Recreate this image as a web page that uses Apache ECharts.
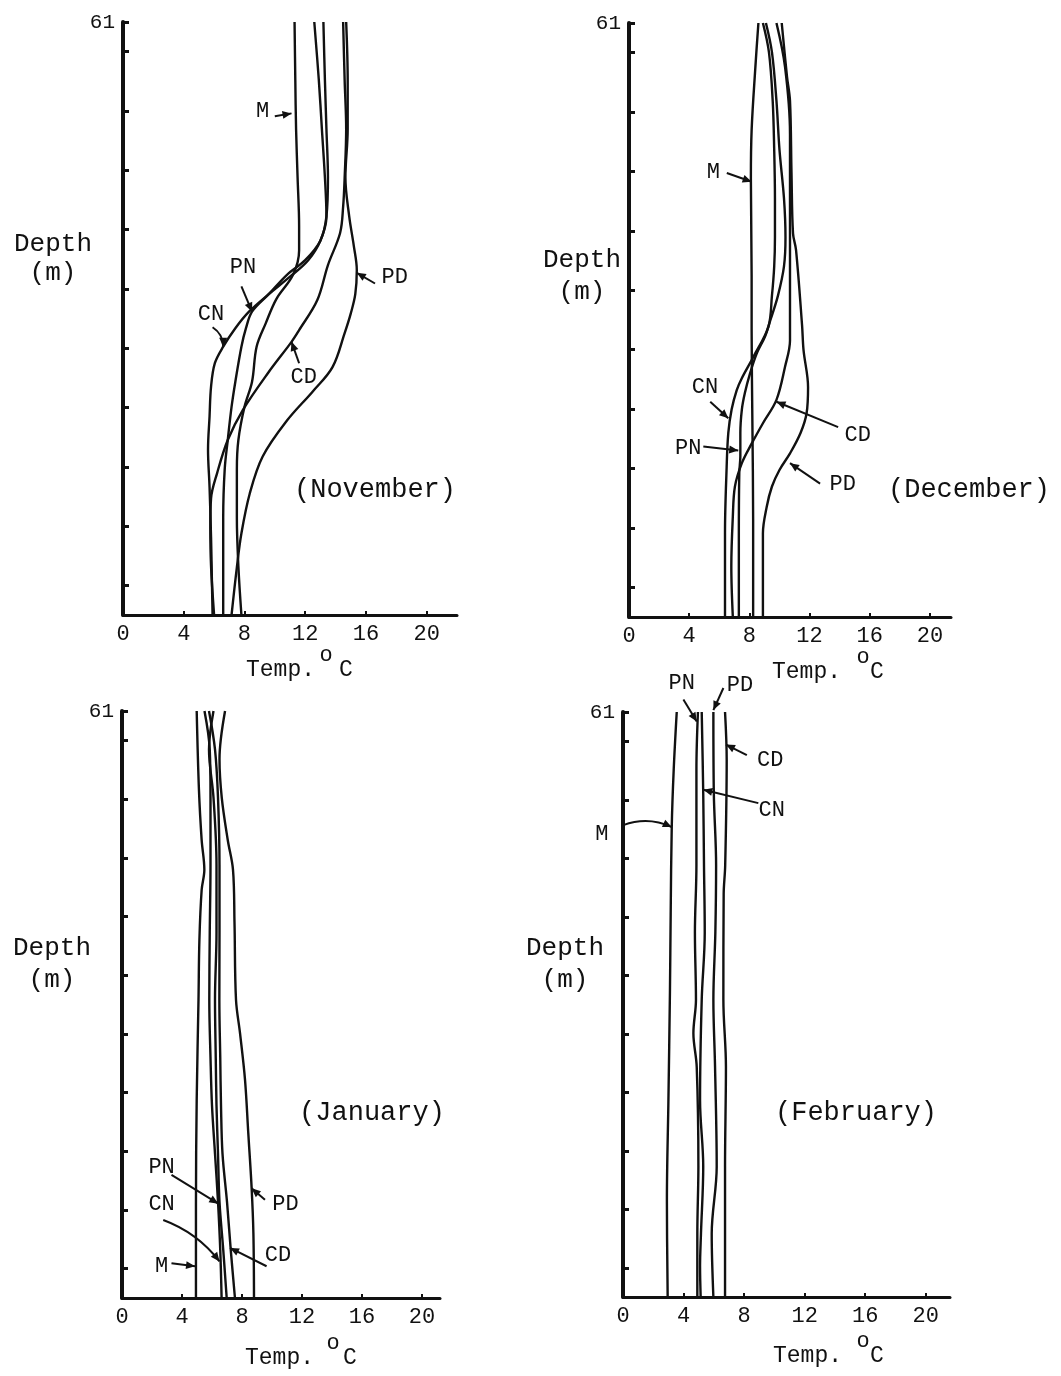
<!DOCTYPE html>
<html><head><meta charset="utf-8">
<script src="https://cdn.jsdelivr.net/npm/echarts@6/dist/echarts.min.js"></script>
<style>html,body{margin:0;padding:0;background:#fff}#c{width:1061px;height:1376px}</style>
</head><body><div id="c"></div>
<script>
// ---------------- DATA (temperature °C, depth m) ----------------
const xTickLabels = [0, 4, 8, 12, 16, 20];
const depthTicks = [3.05, 9.15, 15.25, 21.35, 27.45, 33.55, 39.65, 45.75, 51.85, 57.95, 61];
const depthLabels = [61];
const months = ['(November)', '(December)', '(January)', '(February)'];
const curveNames = ['M', 'PN', 'CN', 'CD', 'PD'];

// November
const novM  = [[11.3,61],[11.35,55],[11.4,50],[11.5,45],[11.6,40],[11.6,37.5],[11.2,35],[10.1,32.5],[9.4,30],[8.8,27.6],[8.5,24],[8.0,21.4],[7.6,18],[7.5,15],[7.5,10],[7.6,5],[7.8,0]];
const novPN = [[13.2,61],[13.3,55],[13.4,50],[13.5,45],[13.4,41],[13.0,38.5],[12.0,36.5],[10.8,35],[9.6,33],[8.5,31.2],[8.1,29.5],[7.8,27.6],[7.4,24],[7.15,21.4],[6.9,18],[6.7,15],[6.6,10],[6.6,5],[6.6,0]];
const novCN = [[12.6,61],[12.9,55],[13.1,50],[13.3,45],[13.4,41],[13.0,38.5],[12.2,36.5],[11.0,34.8],[9.6,33],[8.3,31.2],[7.4,29.5],[6.6,27.6],[6.05,25.9],[5.8,23.5],[5.7,20.4],[5.6,17],[5.7,13.2],[5.8,8],[5.85,4],[5.9,0]];
const novCD = [[14.5,61],[14.6,55],[14.7,50],[14.6,45],[14.5,42],[14.3,39.3],[13.5,36],[12.8,32.4],[11.6,29.3],[11.1,28.1],[9.6,25],[7.9,21.1],[6.9,18],[6.2,14.6],[5.8,12],[5.75,9],[5.8,5],[6.0,0]];
const novPD = [[14.7,61],[14.8,55],[14.8,50],[14.65,45],[14.9,41],[15.2,38],[15.4,35.5],[15.3,33],[15.0,31],[14.6,29],[13.8,25.5],[12.5,23],[10.8,20],[9.2,16.3],[8.35,12.5],[7.8,8.4],[7.5,4.9],[7.15,0]];

// December
const decM  = [[8.6,61],[8.4,56.5],[8.15,50],[8.1,45],[8.15,35],[8.15,29.5],[8.2,20],[8.25,10],[8.25,0]];
const decPN = [[9.1,61],[9.5,58],[9.8,53],[10.0,48],[10.3,43],[10.4,39],[10.3,36],[9.9,33],[9.4,30.5],[9.04,28.8],[8.5,27.1],[8.04,25],[7.7,23],[7.5,21.3],[7.4,18.9],[7.4,16.5],[7.33,14.8],[7.3,8],[7.3,0]];
const decCN = [[8.9,61],[9.3,58],[9.55,53],[9.65,48],[9.7,43],[9.7,39],[9.65,36],[9.5,33],[9.26,29.8],[8.26,26.7],[7.49,24.5],[7.16,23.3],[6.82,21.3],[6.6,18.9],[6.49,15.4],[6.38,8.6],[6.38,0]];
const decCD = [[9.8,61],[10.37,56.5],[10.7,49.6],[10.7,40],[10.7,32.5],[10.7,28.4],[10.37,25.7],[9.8,22.3],[8.9,19.9],[8.15,17.8],[7.5,15.8],[7.04,13.4],[6.9,10.3],[6.8,5.2],[6.9,0]];
const decPD = [[10.15,61],[10.5,55.5],[10.7,53],[10.8,45.6],[10.9,39.4],[11.1,37.7],[11.5,30],[11.6,27.4],[11.9,23.6],[11.8,20.9],[11.4,18.9],[10.7,16.8],[10.0,15.1],[9.5,13.4],[9.15,11.3],[8.9,8.6],[8.9,0]];

// January
const janM  = [[4.98,61],[5.13,52.8],[5.31,47.6],[5.49,44.5],[5.31,42.4],[5.16,37.2],[5.1,31],[4.98,20.6],[4.93,9.8],[4.93,0]];
const janPN = [[6.1,61],[5.8,57],[6.1,52],[6.3,45],[6.3,38],[6.2,31],[6.25,25],[6.3,20],[6.4,15],[6.5,10],[6.75,5],[6.98,0]];
const janCN = [[5.5,61],[5.85,57],[5.9,52],[5.9,45],[5.85,38],[5.82,31],[5.9,25],[6.0,20],[6.2,15],[6.4,10],[6.55,5],[6.64,0]];
const janCD = [[5.8,61],[6.2,57],[6.4,52],[6.5,45],[6.5,38],[6.49,31],[6.55,25],[6.6,20],[6.7,15],[7.0,10],[7.25,5],[7.53,0]];
const janPD = [[6.87,61],[6.5,56],[6.65,52],[7.05,47.6],[7.4,44.5],[7.5,39],[7.6,31],[7.87,27.5],[8.2,22.7],[8.42,17.1],[8.64,11.5],[8.76,6.7],[8.8,0]];

// February
const febM  = [[3.55,61],[3.35,55],[3.22,49],[3.15,40],[3.1,31.7],[3.0,20.5],[2.9,10],[2.95,0]];
const febPN = [[4.95,61],[4.85,55],[4.85,45],[4.75,38],[4.82,31],[4.65,27.5],[4.87,24],[4.98,13.6],[4.91,6.6],[4.91,0]];
const febCN = [[5.2,61],[5.3,52.5],[5.35,45],[5.4,38],[5.2,31],[5.09,20.5],[5.3,13.6],[5.15,6.6],[5.09,3.2],[5.13,0]];
const febCD = [[6.74,61],[6.85,56],[6.75,45],[6.65,42],[6.63,31],[6.8,24],[6.74,13.6],[6.74,0]];
const febPD = [[5.97,61],[6.0,52.5],[6.15,45],[6.1,38],[5.97,31],[6.08,24],[6.19,13.6],[5.86,6.6],[5.97,0]];

// annotation labels: [text, labelT, labelD, fromT, fromD, tipT, tipD, bend(px)]
const novNotes = [['M',9.2,51.8,10.0,51.3,11.1,51.6,0],['PN',7.9,35.8,7.8,33.8,8.5,31.2,0],['CN',5.8,30.9,5.9,29.6,6.6,27.6,-6],['CD',11.9,24.5,11.6,25.9,11.1,28.1,0],['PD',17.9,34.8,16.6,34.1,15.4,35.2,0]];
const decNotes = [['M',5.6,45.7,6.5,45.6,8.15,44.7,0],['CN',5.05,23.6,5.4,22.1,6.6,20.4,0],['PN',3.94,17.3,4.94,17.5,7.26,17.1,0],['CD',15.2,18.7,13.9,19.5,9.8,22.1,0],['PD',14.2,13.6,12.7,13.7,10.7,15.8,0]];
const janNotes = [['PN',2.64,13.6,3.3,12.8,6.42,9.8,0],['CN',2.64,9.7,2.75,8.1,6.5,3.8,-10],['M',2.64,3.3,3.3,3.6,4.87,3.3,0],['PD',10.9,9.8,9.53,10.2,8.64,11.4,0],['CD',10.4,4.5,9.64,3.3,7.2,5.2,0]];
const febNotes = [['PN',3.88,64,3.99,62.3,4.87,60,0],['PD',7.73,63.8,6.63,63.5,5.97,61.2,0],['CD',9.72,56,8.18,56.5,6.8,57.6,0],['CN',9.83,50.8,8.94,51.5,5.31,52.9,0],['M',-1.4,48.3,0.02,49.2,3.22,49,-10]];

// ---------------- LAYOUT ----------------
const FONT = "'Liberation Mono','DejaVu Sans Mono',monospace";
const INK = '#111';
const layout = [
  {left:123, top:22,  width:334, height:593, xMax:22,   depthX:53,  depthY:[244,273], monX:375, monY:490,  tempX:246, tempY:670,  oDx:80, cDx:100},
  {left:629, top:23,  width:322, height:594, xMax:21.4, depthX:582, depthY:[260,292], monX:969, monY:490,  tempX:772, tempY:672,  oDx:91, cDx:105},
  {left:122, top:711, width:318, height:587, xMax:21.2, depthX:52,  depthY:[948,980], monX:372, monY:1113, tempX:245, tempY:1358, oDx:88, cDx:105},
  {left:623, top:712, width:327, height:585, xMax:21.6, depthX:565, depthY:[948,980], monX:856, monY:1113, tempX:773, tempY:1356, oDx:90, cDx:104}
];
const panelCurves = [[novM,novPN,novCN,novCD,novPD],[decM,decPN,decCN,decCD,decPD],[janM,janPN,janCN,janCD,janPD],[febM,febPN,febCN,febCD,febPD]];
const panelNotes = [novNotes, decNotes, janNotes, febNotes];

const chart = echarts.init(document.getElementById('c'), null, {renderer:'canvas'});

function txt(x, y, text, size) {
  return {type:'text', x:x, y:y, silent:true,
    style:{text:text, font:size + 'px ' + FONT, fill:INK, align:'center', verticalAlign:'middle'}};
}

const grids = [], xAxes = [], yAxes = [], series = [], graphics = [];
layout.forEach((L, i) => {
  grids.push({left:L.left, top:L.top, width:L.width, height:L.height, containLabel:false});
  xAxes.push({type:'value', gridIndex:i, min:0, max:L.xMax, interval:4,
    axisLine:{show:true, lineStyle:{color:INK, width:3}},
    axisTick:{show:true, inside:true, length:4, lineStyle:{color:INK, width:2}, customValues:xTickLabels},
    axisLabel:{show:true, color:INK, fontFamily:FONT, fontSize:22, margin:8, customValues:xTickLabels},
    splitLine:{show:false}});
  yAxes.push({type:'value', gridIndex:i, min:0, max:61,
    axisLine:{show:true, lineStyle:{color:INK, width:4}},
    axisTick:{show:true, inside:true, length:6, lineStyle:{color:INK, width:3}, customValues:depthTicks},
    axisLabel:{show:true, color:INK, fontFamily:FONT, fontSize:21, margin:8, padding:[0,0,8,0], customValues:depthLabels},
    splitLine:{show:false}});
  panelCurves[i].forEach((arr, k) => {
    series.push({type:'line', name:curveNames[k], xAxisIndex:i, yAxisIndex:i, data:arr,
      smooth:0.35, showSymbol:false, symbol:'none', animation:false, clip:false,
      lineStyle:{color:INK, width:2.4}});
  });
  const notes = panelNotes[i];
  series.push({type:'custom', xAxisIndex:i, yAxisIndex:i, animation:false, clip:false,
    data: notes.map(n => ({name:n[0], value:n.slice(1)})),
    renderItem: function (params, api) {
      const n = notes[params.dataIndex];
      const lp = api.coord([api.value(0), api.value(1)]);
      const fp = api.coord([api.value(2), api.value(3)]);
      const tp = api.coord([api.value(4), api.value(5)]);
      const bend = api.value(6);
      const children = [];
      let cx = fp[0], cy = fp[1];
      if (bend) {
        const mx = (fp[0]+tp[0])/2, my = (fp[1]+tp[1])/2;
        const dx = tp[0]-fp[0], dy = tp[1]-fp[1];
        const len = Math.hypot(dx, dy) || 1;
        cx = mx + (-dy/len)*bend; cy = my + (dx/len)*bend;
        children.push({type:'bezierCurve', shape:{x1:fp[0], y1:fp[1], x2:tp[0], y2:tp[1], cpx1:cx, cpy1:cy},
          style:{stroke:INK, lineWidth:2, fill:null}});
      } else {
        children.push({type:'line', shape:{x1:fp[0], y1:fp[1], x2:tp[0], y2:tp[1]}, style:{stroke:INK, lineWidth:2}});
      }
      const ax = tp[0]-cx, ay = tp[1]-cy, al = Math.hypot(ax, ay) || 1;
      const ux = ax/al, uy = ay/al, AL = 9, AW = 4;
      children.push({type:'polygon', shape:{points:[[tp[0],tp[1]],[tp[0]-ux*AL-uy*AW, tp[1]-uy*AL+ux*AW],[tp[0]-ux*AL+uy*AW, tp[1]-uy*AL-ux*AW]]},
        style:{fill:INK}});
      children.push({type:'text', style:{text:n[0], x:lp[0], y:lp[1], font:'22px ' + FONT, fill:INK, align:'center', verticalAlign:'middle'}});
      return {type:'group', children:children};
    }});
  // static text
  graphics.push(txt(L.depthX, L.depthY[0], 'Depth', 26));
  graphics.push(txt(L.depthX, L.depthY[1], '(m)', 26));
  graphics.push(txt(L.monX, L.monY, months[i], 27));
  graphics.push({type:'text', x:L.tempX, y:L.tempY, silent:true,
    style:{text:'Temp.', font:'23px ' + FONT, fill:INK, align:'left', verticalAlign:'middle'}});
  graphics.push(txt(L.tempX + L.oDx, L.tempY - 15, 'o', 22));
  graphics.push(txt(L.tempX + L.cDx, L.tempY, 'C', 23));
});

chart.setOption({
  backgroundColor:'#fff',
  animation:false,
  grid:grids, xAxis:xAxes, yAxis:yAxes, series:series, graphic:graphics
});
</script></body></html>
